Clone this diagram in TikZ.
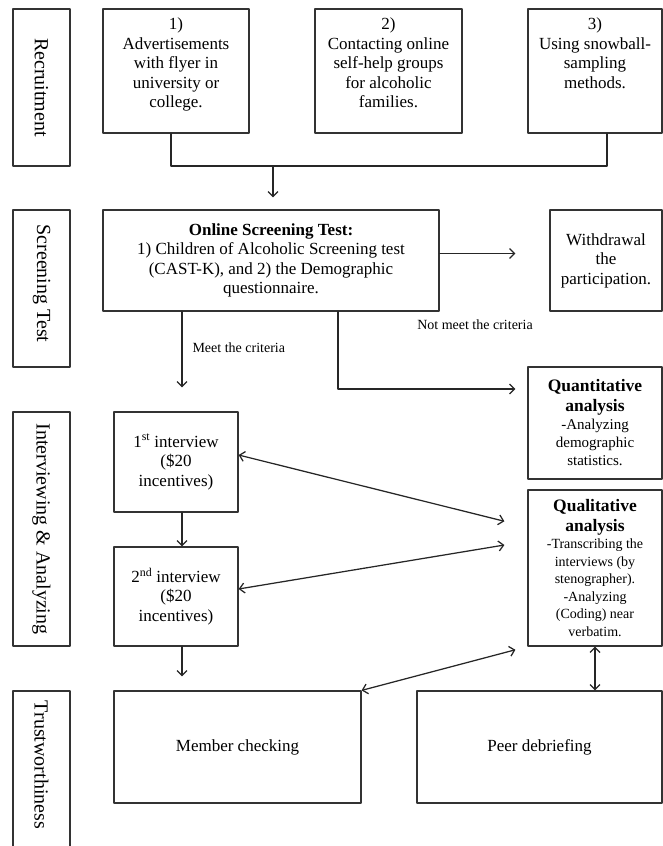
\documentclass[tikz,border=0pt]{standalone}
\usepackage{fontspec}
\setmainfont{Liberation Serif}
\usetikzlibrary{arrows.meta}
\newcommand{\topcell}[2]{\parbox[c][106pt][t]{#1}{\centering #2}}
\newcommand{\headfont}{\fontsize{17.5}{20}\selectfont\bfseries}

\begin{document}
\begin{tikzpicture}[x=1pt, y=-1pt, line cap=round, line join=round,
	>={Straight Barb[length=5pt,width=10pt]},
	font=\fontsize{17}{19.5}\selectfont,
	box/.style={draw=black!80, line width=1.2pt, inner sep=0pt, align=center},
	lab/.style={draw=black!80, line width=1.2pt, inner sep=0pt, rotate=-90, minimum height=57pt, font=\fontsize{20}{22}\selectfont},
	arr/.style={draw=black!85, line width=1.25pt},
	crit/.style={font=\fontsize{14}{16}\selectfont}]
	\useasboundingbox (0,0) rectangle (663,846);
	
	% 1. Nhãn các giai đoạn bên trái
	\node[lab, minimum width=157pt] (rec) at (41.5,87.5) {Recruitment};
	\node[lab, minimum width=157pt] (scrl) at (41.5,288.5) {Screening Test\hspace*{10pt}};
	\node[lab, minimum width=234pt] (intl) at (41.5,529) {Interviewing \& Analyzing};
	\node[lab, minimum width=168pt] (trul) at (41.5,775) {Trustworthiness\hspace*{20pt}};
	
	% 2. Ba cách tuyển chọn
	\node[box, minimum width=146pt, minimum height=124pt] (b1) at (176,71) {\topcell{140pt}{1)\\ Advertisements\\ with flyer in\\ university or\\ college.}};
	\node[box, minimum width=147pt, minimum height=124pt] (b2) at (388.5,71) {\topcell{141pt}{2)\\ Contacting online\\ self-help groups\\ for alcoholic\\ families.}};
	\node[box, minimum width=134pt, minimum height=124pt] (b3) at (595,71) {\topcell{128pt}{3)\\ Using snowball-\\ sampling\\ methods.}};
	\coordinate (jn) at (273,166);
	\draw[arr] ([xshift=-5pt]b1.south) |- (jn) -| ([xshift=12pt]b3.south);
	
	% 3. Kiểm tra sàng lọc
	\node[box, minimum width=336pt, minimum height=101pt] (scr) at (271,260.5) {\textbf{Online Screening Test:}\\ 1) Children of Alcoholic Screening test\\ (CAST-K), and 2) the Demographic\\ questionnaire.};
	\node[box, minimum width=112pt, minimum height=101pt] (wd) at (606,260.5) {Withdrawal\\ the\\ participation.};
	\draw[arr, ->, shorten >=12pt] (jn) -- (jn |- scr.north);
	\draw[arr, ->, shorten >=34pt] ([yshift=7pt]scr.east) -- ([yshift=7pt]wd.west);
	
	% 4. Phân tích định lượng và định tính
	\node[box, align=flush center, text width=130pt, minimum width=134pt, minimum height=112pt] (qt) at (595,423) {{\headfont Quantitative\\ analysis\par}{\fontsize{15}{18}\selectfont -Analyzing\\ demographic\\ statistics.\par}};
	\node[box, align=flush center, text width=130pt, minimum width=134pt, minimum height=156pt] (ql) at (595,568) {{\headfont Qualitative\\ analysis\par}{\fontsize{14}{17.5}\selectfont -Transcribing the\\ interviews (by\\ stenographer).\\ -Analyzing\\ (Coding) near\\ verbatim.\par}};
	\draw[arr, ->, shorten >=12pt] ([xshift=67pt]scr.south) |- ([yshift=34pt]qt.west);
	\node[crit] (nmeet) at (475,325) {Not meet the criteria};
	
	% 5. Hai lần phỏng vấn
	\node[box, minimum width=124pt, minimum height=100pt] (i1) at (176,462) {1\textsuperscript{st} interview\\ (\$20\\ incentives)};
	\node[box, minimum width=124pt, minimum height=99pt] (i2) at (176,596.5) {2\textsuperscript{nd} interview\\ (\$20\\ incentives)};
	\draw[arr, ->, shorten >=24pt] ([xshift=-89pt]scr.south) -- ([xshift=6pt]i1.north);
	\node[crit, anchor=west] (meet) at (189,348) {Meet the criteria};
	\draw[arr, ->] ([xshift=6pt]i1.south) -- ([xshift=6pt]i2.north);
	\draw[arr, <->, shorten >=23.7pt] ([yshift=7pt]i1.east) -- ([yshift=41pt]ql.west);
	\draw[arr, <->, shorten >=23.3pt] ([yshift=7.5pt]i2.east) -- ([yshift=26.8pt]ql.west);
	
	% 6. Độ tin cậy
	\node[box, minimum width=247pt, minimum height=112pt] (mc) at (237.5,747) {Member checking};
	\node[box, minimum width=245pt, minimum height=112pt] (pd) at (539.5,747) {Peer debriefing};
	\draw[arr, ->, shorten >=14pt] ([xshift=6pt]i2.south) -- ([xshift=6pt]i2.south |- mc.north);
	\draw[arr, <->, shorten >=12.4pt] (mc.north east) -- (ql.south west);
	\draw[arr, <->] (ql.south) -- (ql.south |- pd.north);
\end{tikzpicture}
\end{document}
